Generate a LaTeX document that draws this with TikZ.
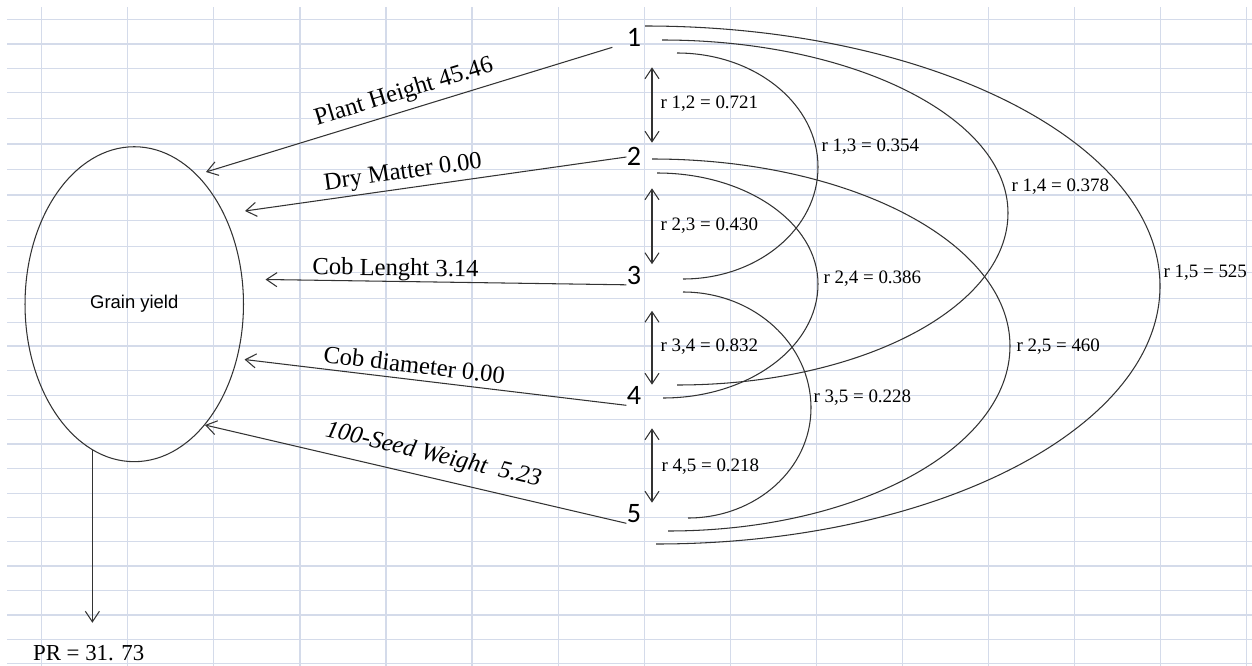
\documentclass[tikz,border=0pt]{standalone}
\usepackage{fontspec}
\setmainfont{Liberation Serif}
\setsansfont{Liberation Sans}
\newfontfamily\calibri{Carlito}
\usetikzlibrary{shapes.geometric, arrows.meta, calc}

\begin{document}
\begin{tikzpicture}[x=0.02cm, y=-0.02cm, line width=0.6pt]
    \tikzstyle{gridline}=[draw={rgb,255:red,212;green,219;blue,234}, line width=0.7pt]
    \tikzstyle{arrowline}=[draw=black!80, -{Straight Barb[length=6pt,width=8pt]}]
    \tikzstyle{twoway}=[draw=black!80, {Straight Barb[length=6pt,width=8pt]}-{Straight Barb[length=6pt,width=8pt]}]
    \tikzstyle{corr}=[draw=black!80]
    \tikzstyle{varnode}=[inner sep=0pt, text height=10pt, text depth=0pt, font=\calibri\fontsize{16}{16}\selectfont]
    \tikzstyle{pathlab}=[font=\fontsize{14}{14}\selectfont, sloped, above]
    \tikzstyle{rlab}=[anchor=west, inner sep=0pt, font=\fontsize{10.8}{11}\selectfont]
    % page and spreadsheet grid
    \useasboundingbox (0,0) rectangle (1252,666);
    \fill[white] (0,0) rectangle (1252,666);
    \foreach \y in {19.3,44,68.3,92.7,118.3,144,169.3,195,220.7,246.7,272.7,298.3,322.7,346,370.7,395.7,419.3,444,468.3,493.3,517.3,541.7,566,590.7,615,639.3,663.3}
        \draw[gridline] (7,\y) -- (1252,\y);
    \foreach \k in {0,...,14}
        \draw[gridline] ({41.7+86.07*\k},7) -- ({41.7+86.07*\k},666);
    % grain yield and the five traits
    \node[draw=black!80, ellipse, minimum width=4.37cm, minimum height=6.3cm, inner sep=0pt, font=\sffamily\fontsize{10.5}{12}\selectfont] (gy) at (134.25,304.2) {Grain yield};
    \node[varnode] (v1) at (634,38) {1};
    \node[varnode] (v2) at (634,157) {2};
    \node[varnode] (v3) at (634,275.5) {3};
    \node[varnode] (v4) at (634,396) {4};
    \node[varnode] (v5) at (634,514) {5};
    \coordinate (t1) at (206,172);
    \coordinate (t2) at (245,211);
    \coordinate (t3) at (265.5,279.5);
    \coordinate (t4) at (244.5,359.5);
    \coordinate (t5) at (205,425);
    % direct effects
    \draw[arrowline] ($(v1.south west)+(-14,0)$) -- (t1) node[pathlab, pos=0.5] {Plant Height 45.46};
    \draw[arrowline] (v2.west) -- (t2) node[pathlab, pos=0.58, inner sep=2pt] {Dry Matter 0.00};
    \draw[arrowline] (v3.south west) -- (t3) node[pathlab, pos=0.64, inner sep=0pt] {Cob Lenght 3.14};
    \draw[arrowline] (v4.south west) -- (t4) node[pathlab, pos=0.56] {Cob diameter 0.00};
    \draw[arrowline] (v5.south west) -- (t5) node[pathlab, pos=0.47, inner sep=6pt, font=\itshape\fontsize{14}{14}\selectfont] {100-Seed Weight\ \ 5.23};
    % residual
    \node[inner sep=0pt, font=\fontsize{13}{13}\selectfont] (pr) at (88.7,653) {PR = 31. 73};
    \draw[arrowline, shorten >=4.4mm] (gy.254) -- (gy.254 |- pr.north);
    % neighbour correlations
    \draw[twoway] ($(v1.south)+(18,20)$) -- ($(v2.north)+(18,-5)$);
    \draw[twoway] ($(v2.south)+(18,22)$) -- ($(v3.north)+(18,-2)$);
    \draw[twoway] ($(v3.south)+(18,26)$) -- ($(v4.north)+(18,-2)$);
    \draw[twoway] ($(v4.south)+(18,23)$) -- ($(v5.north)+(18,-2)$);
    \node[rlab] (r12) at (660,104) {r 1,2 = 0.721};
    \node[rlab] (r23) at (660,226) {r 2,3 = 0.430};
    \node[rlab] (r34) at (660,347) {r 3,4 = 0.832};
    \node[rlab] (r45) at (661,467) {r 4,5 = 0.218};
    % other correlations
    \coordinate (s13) at (677,53);   \coordinate (e13) at (683,279);
    \coordinate (s24) at (657,173);  \coordinate (e24) at (663,398);
    \coordinate (s35) at (683,292);  \coordinate (e35) at (688,518);
    \coordinate (s14) at (662,40);   \coordinate (e14) at (677,385);
    \coordinate (s25) at (652,159);  \coordinate (e25) at (668,531);
    \coordinate (s15) at (645,26);   \coordinate (e15) at (656,544);
    \draw[corr] (s13) .. controls (754.9,53) and (818,104) .. (818,167) .. controls (818,228.9) and (757.6,279) .. (e13);
    \draw[corr] (s24) .. controls (745.9,173) and (818,222.7) .. (818,284) .. controls (818,347) and (748.6,398) .. (e24);
    \draw[corr] (s35) .. controls (753.7,292) and (811,343.9) .. (811,408) .. controls (811,468.8) and (755.9,518) .. (e35);
    \draw[corr] (s14) .. controls (853.1,40) and (1008,117.5) .. (1008,213) .. controls (1008,308) and (859.8,385) .. (e14);
    \draw[corr] (s25) .. controls (849.7,159) and (1010,242.7) .. (1010,346) .. controls (1010,448.2) and (856.9,531) .. (e25);
    \draw[corr] (s15) .. controls (929.4,26) and (1160,142.4) .. (1160,286) .. controls (1160,428.5) and (934.4,544) .. (e15);
    \node[rlab] (r13) at (821,147) {r 1,3 = 0.354};
    \node[rlab] (r24) at (823,279) {r 2,4 = 0.386};
    \node[rlab] (r35) at (813,398) {r 3,5 = 0.228};
    \node[rlab] (r14) at (1011,187) {r 1,4 = 0.378};
    \node[rlab] (r25) at (1016,347) {r 2,5 = 460};
    \node[rlab] (r15) at (1163,273) {r 1,5 = 525};
\end{tikzpicture}
\end{document}
